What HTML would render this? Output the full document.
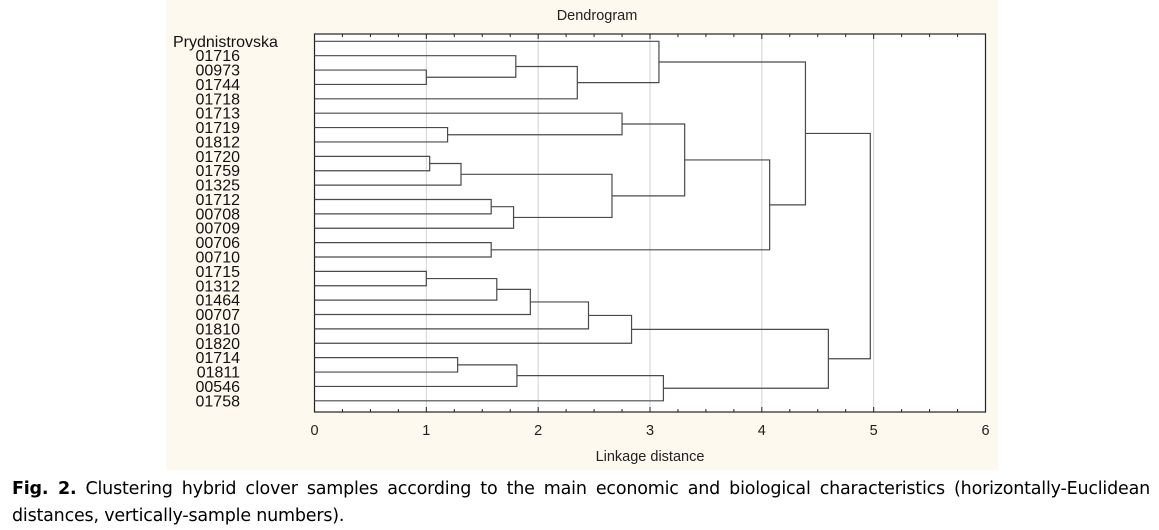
<!DOCTYPE html>
<html><head><meta charset="utf-8">
<style>
html,body{margin:0;padding:0;background:#fff;width:1159px;height:530px;overflow:hidden}
svg{position:absolute;left:0;top:0}
.cap{position:absolute;left:12px;top:476px;width:1138px;font-family:"DejaVu Sans","Liberation Sans",sans-serif;font-size:17.5px;line-height:27px;text-align:justify;text-align-last:left;color:#000;letter-spacing:-0.2px}
</style></head>
<body>
<svg id="chart" width="1159" height="530" font-family="Liberation Sans, Arial, sans-serif">
<rect x="166" y="0" width="832" height="470" fill="#fef9ee"/>
<text x="597" y="20" font-size="14.5" text-anchor="middle" fill="#222">Dendrogram</text>
<text x="650" y="461" font-size="14.5" text-anchor="middle" fill="#222">Linkage distance</text>
</svg>
<div class="cap"><b>Fig. 2.</b> Clustering hybrid clover samples according to the main economic and biological characteristics (horizontally-Euclidean distances, vertically-sample numbers).</div>
<script>
const leafLabels = ["Prydnistrovska","01716","00973","01744","01718","01713","01719","01812","01720","01759","01325","01712","00708","00709","00706","00710","01715","01312","01464","00707","01810","01820","01714","01811","00546","01758"];
// merges: [childA, childB, height]; new node ids start at 26
const mergeA = [2, 1, 27, 0, 6, 5, 8, 32, 11, 34, 33, 31, 14, 37, 29, 16, 41, 42, 43, 44, 22, 46, 47, 45, 40];
const mergeB = [3, 26, 4, 28, 7, 30, 9, 10, 12, 13, 35, 36, 15, 38, 39, 17, 18, 19, 20, 21, 23, 24, 25, 48, 49];
const mergeH = [1.0, 1.8, 2.35, 3.08, 1.19, 2.75, 1.03, 1.31, 1.58, 1.78, 2.66, 3.31, 1.58, 4.07, 4.39, 1.0, 1.63, 1.93, 2.45, 2.835, 1.28, 1.81, 3.12, 4.595, 4.97];
const xTicks = [0,1,2,3,4,5,6];

const svg = document.getElementById('chart');
const NS = 'http://www.w3.org/2000/svg';
const L = 314.5, R = 985.5, T = 34, B = 412;
const xMax = 6;
const xs = v => L + v / xMax * (R - L);
const y0 = 41.3, dy = 14.38;
const ys = i => y0 + i * dy;
function mk(tag, attrs){const e=document.createElementNS(NS,tag);for(const k in attrs)e.setAttribute(k,attrs[k]);svg.appendChild(e);return e;}

const plot = mk('rect',{x:L,y:T,width:R-L,height:B-T,fill:'#fff',stroke:'none'});


xTicks.forEach(t=>{
  if(t>0 && t<xMax){
    const g = mk('line',{x1:xs(t),x2:xs(t),y1:T,y2:B,stroke:'#d2d2d2','stroke-width':1});
    
    
  }
  const lb = mk('text',{x:xs(t),y:435,'font-size':14.5,'text-anchor':'middle',fill:'#222'});
  lb.textContent = t;
  
  
});
for(let v=0; v<=xMax+1e-9; v+=0.25){
  const len = Math.abs(v-Math.round(v))<1e-6 ? 5 : 3;
  mk('line',{x1:xs(v),x2:xs(v),y1:T,y2:T+len,stroke:'#222','stroke-width':1});
  mk('line',{x1:xs(v),x2:xs(v),y1:B,y2:B-len,stroke:'#222','stroke-width':1});
}
const frame = mk('rect',{x:L,y:T,width:R-L,height:B-T,fill:'none',stroke:'#222','stroke-width':1.2});



leafLabels.forEach((s,i)=>{
  const t = mk('text',{x:i===0?173:240,y:ys(i)+5.5,'font-size':16,'text-anchor':i===0?'start':'end',fill:'#111'});
  t.textContent = s;
  
  
});

const nodeY = leafLabels.map((_,i)=>ys(i));
const nodeH = leafLabels.map(()=>0);
mergeA.forEach((a,k)=>{
  const b = mergeB[k], h = mergeH[k];
  const ya = nodeY[a], yb = nodeY[b], xh = xs(h);
  const p = mk('path',{d:`M${xs(nodeH[a])},${ya}H${xh}V${yb}H${xs(nodeH[b])}`,fill:'none',stroke:'#4a4a4a','stroke-width':1.2});
  
  
  nodeY.push((ya+yb)/2);
  nodeH.push(h);
});
</script>
</body></html>
